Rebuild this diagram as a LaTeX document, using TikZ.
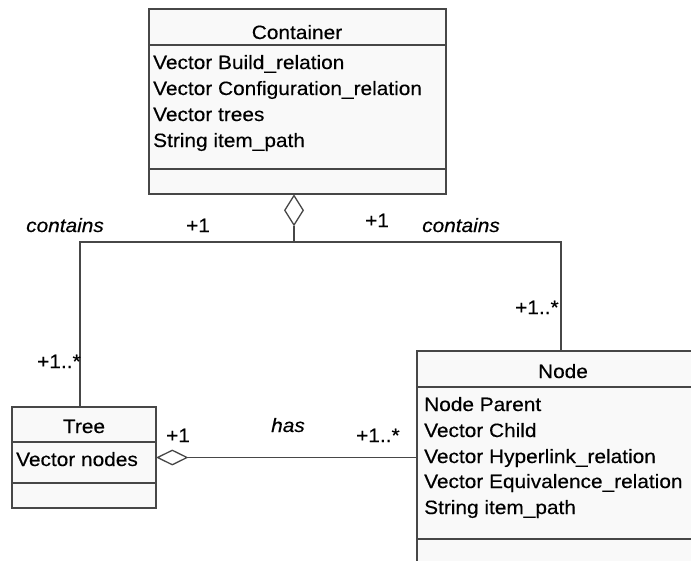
\documentclass[tikz,border=0pt]{standalone}
\usepackage{fontspec}
\setmainfont{Liberation Sans}[FakeStretch=1.08,FakeBold=0.35]
\usetikzlibrary{shapes.geometric}
\definecolor{linegray}{HTML}{474747}
\definecolor{boxfill}{HTML}{F9F9F9}
\begin{document}
\begin{tikzpicture}[x=1pt,y=-1pt,
  box/.style={rectangle, draw=linegray, fill=boxfill, line width=1.3pt, inner sep=0pt},
  rule/.style={draw=linegray, line width=1.3pt},
  agg/.style={diamond, draw=linegray, fill=white, line width=1.3pt, inner sep=0pt},
  txt/.style={font=\fontsize{19.3}{24}\selectfont, inner sep=0pt, text=black},
  lbl/.style={txt, anchor=base west},
  ital/.style={lbl, font=\fontsize{19.3}{24}\selectfont\itshape},
  title/.style={txt, anchor=base}]
\useasboundingbox (0,0) rectangle (691,560);
\clip (0,0) rectangle (691,560);

% class boxes
\node[box, minimum width=297pt, minimum height=185pt] (container) at (297.5,101.5) {};
\node[box, minimum width=144pt, minimum height=101pt] (tree) at (84,457.5) {};
\node[box, minimum width=288pt, minimum height=229pt] (nodebox) at (561,465.5) {};

% compartment dividers
\draw[rule] (container.west |- 0,45) -- (container.east |- 0,45);
\draw[rule] (container.west |- 0,169) -- (container.east |- 0,169);
\draw[rule] (tree.west |- 0,442) -- (tree.east |- 0,442);
\draw[rule] (tree.west |- 0,483) -- (tree.east |- 0,483);
\draw[rule] (nodebox.west |- 0,387) -- (nodebox.east |- 0,387);
\draw[rule] (nodebox.west |- 0,539) -- (nodebox.east |- 0,539);

% class names
\node[title] (containerName) at (297,39) {Container};
\node[title] (treeName) at (84,433) {Tree};
\node[title] (nodeName) at (563,378) {Node};

% attributes
\node[lbl] (cA1) at (153,69) {Vector Build\_relation};
\node[lbl] (cA2) at (153,95) {Vector Configuration\_relation};
\node[lbl] (cA3) at (153,121) {Vector trees};
\node[lbl] (cA4) at (153,147) {String item\_path};
\node[lbl] (tA1) at (16,466) {Vector nodes};
\node[lbl] (nA1) at (424,411) {Node Parent};
\node[lbl] (nA2) at (424,437) {Vector Child};
\node[lbl] (nA3) at (424,463) {Vector Hyperlink\_relation};
\node[lbl] (nA4) at (424,488) {Vector Equivalence\_relation};
\node[lbl] (nA5) at (424,514) {String item\_path};

% aggregation: Container contains trees and nodes
\node[agg, minimum width=19pt, minimum height=30pt, anchor=north] (agg1) at ([xshift=-3.5pt]container.south) {};
\draw[rule] (agg1.south) -- ++(0,16) coordinate (fork);
\draw[rule] (fork) -| ([xshift=-4pt]tree.north);
\draw[rule] (fork) -| (nodebox.north);

% aggregation: Tree has nodes
\node[agg, minimum width=30pt, minimum height=15pt, anchor=west] (agg2) at (tree.east) {};
\draw[rule] (agg2.east) -- (agg2.east -| nodebox.west);

% association labels and multiplicities
\node[ital] (containsL) at (26,232) {contains};
\node[lbl] (mulL1) at (186,232) {+1};
\node[lbl] (mulR1) at (365,227) {+1};
\node[ital] (containsR) at (422,232) {contains};
\node[lbl] (mulNode) at (515,314) {+1..*};
\node[lbl] (mulTree) at (37,368) {+1..*};
\node[lbl] (mulHas1) at (166,442) {+1};
\node[ital] (hasL) at (271,432) {has};
\node[lbl] (mulHasN) at (356,442) {+1..*};
\end{tikzpicture}
\end{document}
